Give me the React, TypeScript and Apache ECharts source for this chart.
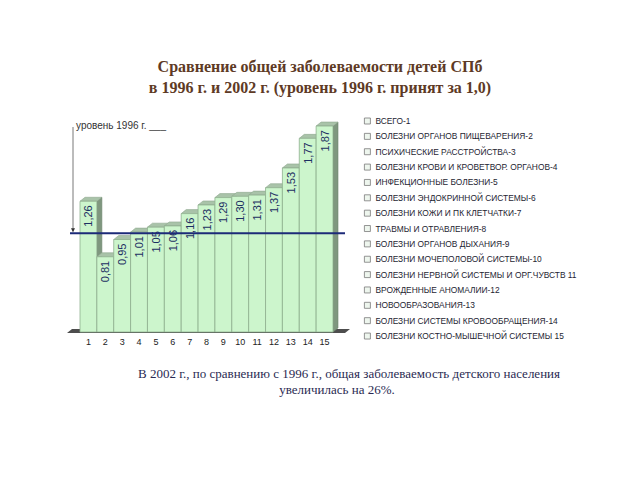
import React, { useEffect, useRef } from "react";
import * as echarts from "echarts";

const categories = ["1", "2", "3", "4", "5", "6", "7", "8", "9", "10", "11", "12", "13", "14", "15"];
const values = [1.26, 0.81, 0.95, 1.01, 1.05, 1.06, 1.16, 1.23, 1.29, 1.3, 1.31, 1.37, 1.53, 1.77, 1.87];
const legendNames = [
  "ВСЕГО-1",
  "БОЛЕЗНИ ОРГАНОВ ПИЩЕВАРЕНИЯ-2",
  "ПСИХИЧЕСКИЕ РАССТРОЙСТВА-3",
  "БОЛЕЗНИ КРОВИ И КРОВЕТВОР. ОРГАНОВ-4",
  "ИНФЕКЦИОННЫЕ БОЛЕЗНИ-5",
  "БОЛЕЗНИ ЭНДОКРИННОЙ СИСТЕМЫ-6",
  "БОЛЕЗНИ КОЖИ И ПК КЛЕТЧАТКИ-7",
  "ТРАВМЫ И ОТРАВЛЕНИЯ-8",
  "БОЛЕЗНИ ОРГАНОВ ДЫХАНИЯ-9",
  "БОЛЕЗНИ МОЧЕПОЛОВОЙ СИСТЕМЫ-10",
  "БОЛЕЗНИ НЕРВНОЙ СИСТЕМЫ И ОРГ.ЧУВСТВ 11",
  "ВРОЖДЕННЫЕ АНОМАЛИИ-12",
  "НОВООБРАЗОВАНИЯ-13",
  "БОЛЕЗНИ СИСТЕМЫ КРОВООБРАЩЕНИЯ-14",
  "БОЛЕЗНИ КОСТНО-МЫШЕЧНОЙ СИСТЕМЫ 15",
];
const baseLevel = 1.0;
const axisMin = 0.2;
const axisMax = 2.0;
const titleText = "Сравнение общей заболеваемости детей СПб\nв 1996 г. и 2002 г. (уровень 1996 г. принят за 1,0)";
const noteLine1 = "В 2002 г., по сравнению с 1996 г., общая заболеваемость детского населения";
const noteLine2 = "увеличилась на 26%.";
const levelLabel = "уровень 1996 г. ___";

const fmt = (v: number) => v.toFixed(2).replace(".", ",");

export default function App() {
  const ref = useRef<HTMLDivElement>(null);
  useEffect(() => {
    if (!ref.current) return;
    const chart = echarts.init(ref.current, null, { renderer: "svg" });
    const DX = 5;
    const DY = 4;

    const barSeries = values.map((v, i) => ({
      name: legendNames[i],
      type: "custom",
      z: 2,
      data: [[i, v]],
      renderItem: (params: any, api: any) => {
        const idx = api.value(0);
        const val = api.value(1);
        const top = api.coord([idx, val]);
        const bot = api.coord([idx, axisMin]);
        const w = api.size([1, 0])[0];
        const left = top[0] - w / 2;
        const right = top[0] + w / 2;
        const ty = top[1];
        const by = bot[1];
        return {
          type: "group",
          children: [
            {
              type: "polygon",
              shape: { points: [[right, ty], [right + DX, ty - DY], [right + DX, by - DY], [right, by]] },
              style: { fill: "#7f977f", stroke: "#6d846d", lineWidth: 0.6 },
            },
            {
              type: "polygon",
              shape: { points: [[left, ty], [left + DX, ty - DY], [right + DX, ty - DY], [right, ty]] },
              style: { fill: "#a9c3a9", stroke: "#8fa88f", lineWidth: 0.6 },
            },
            {
              type: "rect",
              shape: { x: left, y: ty, width: w, height: by - ty },
              style: { fill: "#ccf5cc", stroke: "#8fb08f", lineWidth: 0.8 },
            },
            {
              type: "text",
              x: top[0],
              y: ty + 4,
              rotation: Math.PI / 2,
              style: {
                text: fmt(val),
                align: "right",
                verticalAlign: "middle",
                fontSize: 11,
                fontFamily: "Liberation Sans, Arial, sans-serif",
                fill: "#1c2f62",
              },
            },
          ],
        };
      },
    }));

    const floorSeries = {
      name: "floor",
      type: "custom",
      z: 1,
      silent: true,
      data: [[0, axisMin]],
      renderItem: (params: any, api: any) => {
        const cs = params.coordSys;
        const by = api.coord([0, axisMin])[1];
        return {
          type: "polygon",
          shape: {
            points: [
              [cs.x - 13, by + 1],
              [cs.x - 8, by - 3],
              [cs.x + cs.width + 17, by - 3],
              [cs.x + cs.width + 12, by + 1],
            ],
          },
          style: { fill: "#4d4d4d" },
        };
      },
    };

    const levelSeries = {
      name: "level",
      type: "custom",
      z: 3,
      silent: true,
      data: [[0, baseLevel]],
      renderItem: (params: any, api: any) => {
        const cs = params.coordSys;
        const ly = api.coord([0, api.value(1)])[1];
        const ax = cs.x - 7;
        const topY = cs.y + 17;
        return {
          type: "group",
          children: [
            {
              type: "line",
              shape: { x1: cs.x - 10, y1: ly, x2: cs.x + cs.width + 12, y2: ly },
              style: { stroke: "#1c2a78", lineWidth: 2 },
            },
            {
              type: "line",
              shape: { x1: ax, y1: topY, x2: ax, y2: ly - 2 },
              style: { stroke: "#555", lineWidth: 0.8 },
            },
            {
              type: "polygon",
              shape: { points: [[ax - 2, ly - 5], [ax + 2, ly - 5], [ax, ly - 1]] },
              style: { fill: "#333" },
            },
            {
              type: "text",
              x: ax + 3,
              y: topY - 2,
              style: {
                text: levelLabel,
                align: "left",
                verticalAlign: "middle",
                fontSize: 10,
                fontFamily: "Liberation Sans, Arial, sans-serif",
                fill: "#333",
              },
            },
          ],
        };
      },
    };

    chart.setOption({
      animation: false,
      backgroundColor: "#ffffff",
      title: {
        text: titleText,
        left: "center",
        top: 51,
        textStyle: {
          fontFamily: "Liberation Serif, Times New Roman, serif",
          fontSize: 16,
          fontWeight: "bold",
          color: "#5e3a25",
          lineHeight: 21,
        },
      },
      graphic: [
        {
          type: "text",
          x: 349,
          y: 373,
          style: {
            text: noteLine1,
            align: "center",
            verticalAlign: "middle",
            fontSize: 13,
            fontFamily: "Liberation Serif, Times New Roman, serif",
            fill: "#2a2a52",
          },
        },
        {
          type: "text",
          x: 337,
          y: 389,
          style: {
            text: noteLine2,
            align: "center",
            verticalAlign: "middle",
            fontSize: 13,
            fontFamily: "Liberation Serif, Times New Roman, serif",
            fill: "#2a2a52",
          },
        },
      ],
      legend: {
        data: legendNames,
        orient: "vertical",
        left: 364,
        top: 116,
        padding: 0,
        itemWidth: 6,
        itemHeight: 6,
        itemGap: 5.36,
        icon: "rect",
        selectedMode: false,
        itemStyle: { color: "#eef6ee", borderColor: "#7a7a7a", borderWidth: 0.8 },
        textStyle: {
          fontSize: 8.4,
          lineHeight: 10,
          color: "#1e1e32",
          fontFamily: "Liberation Sans, Arial, sans-serif",
        },
      },
      grid: { left: 80, top: 110, width: 253, height: 222 },
      xAxis: {
        type: "category",
        data: categories,
        axisLine: { show: false },
        axisTick: { show: false },
        axisLabel: {
          fontSize: 9,
          color: "#222",
          margin: 5,
          fontFamily: "Liberation Sans, Arial, sans-serif",
        },
      },
      yAxis: {
        type: "value",
        min: axisMin,
        max: axisMax,
        show: false,
        splitLine: { show: false },
      },
      series: [floorSeries, ...barSeries, levelSeries],
    });
    return () => chart.dispose();
  }, []);
  return <div ref={ref} style={{ position: "fixed", left: 0, top: 0, width: 640, height: 480 }} />;
}
